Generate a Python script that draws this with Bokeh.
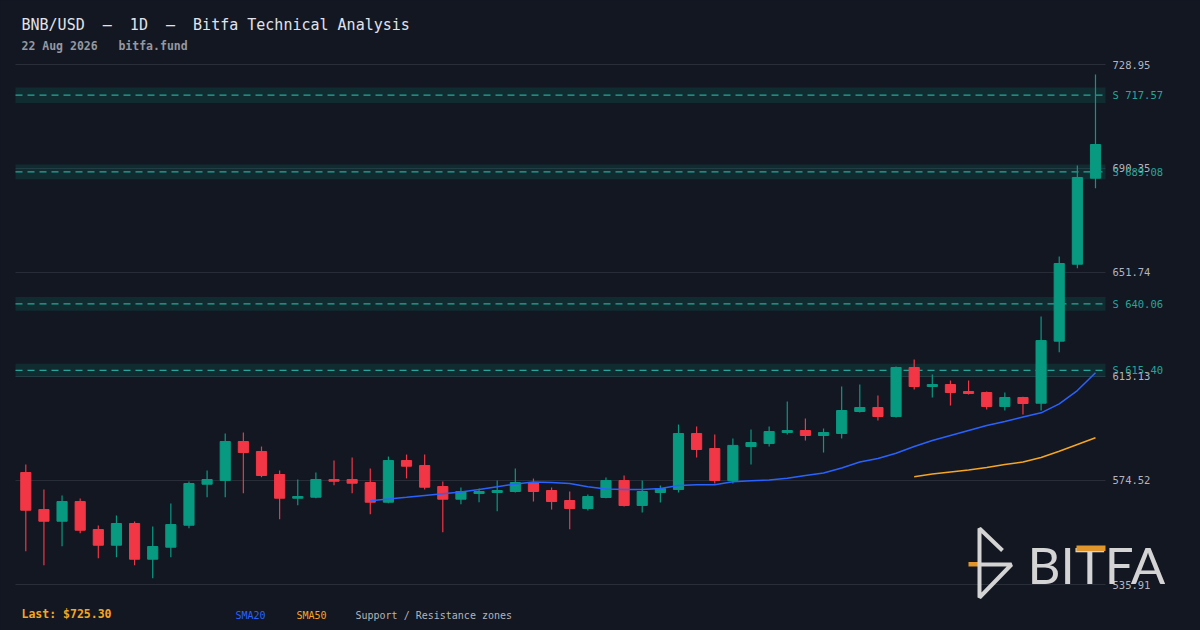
from bokeh.plotting import figure
from bokeh.models import (ColumnDataSource, Range1d, Label, BoxAnnotation, PolyAnnotation)
from bokeh.embed import file_html
from bokeh.resources import INLINE

# ---------------- data ----------------
opens = [577.48, 563.74, 559.40, 566.71, 556.32, 550.49, 558.55, 545.29, 549.75, 557.91,
         573.14, 574.51, 588.99, 585.28, 576.74, 567.94, 568.31, 574.88, 574.88, 573.77,
         566.45, 581.93, 580.08, 572.28, 567.57, 569.68, 570.06, 570.43, 573.77, 570.80,
         567.09, 564.11, 568.20, 574.51, 565.23, 570.06, 571.17, 591.96, 586.39, 574.51,
         587.13, 588.24, 592.33, 593.07, 591.22, 591.96, 600.13, 601.61, 598.27, 616.46,
         609.41, 610.15, 607.55, 607.18, 602.00, 605.33, 603.20, 626.23, 654.81, 686.74]
highs = [580.45, 571.17, 568.94, 567.83, 557.80, 561.52, 559.29, 557.43, 565.97, 574.14,
         578.22, 591.96, 592.33, 587.13, 578.22, 574.88, 577.48, 581.93, 583.04, 578.96,
         583.42, 584.16, 584.16, 574.14, 571.91, 571.54, 574.51, 578.96, 575.25, 571.91,
         570.43, 569.31, 575.62, 576.37, 574.51, 572.65, 595.30, 594.56, 591.59, 590.10,
         593.44, 594.56, 603.84, 597.53, 593.82, 609.41, 610.15, 606.07, 616.83, 619.43,
         613.86, 611.63, 611.63, 607.55, 607.18, 605.60, 635.39, 657.67, 691.45, 725.24]
lows = [548.27, 543.07, 550.12, 554.95, 545.66, 546.03, 543.07, 538.24, 546.03, 556.80,
        568.31, 568.31, 569.80, 575.74, 560.14, 565.34, 567.94, 572.76, 569.80, 562.00,
        566.08, 575.30, 571.17, 555.32, 565.71, 566.45, 563.11, 570.06, 566.71, 563.74,
        556.43, 563.37, 567.90, 564.86, 562.63, 566.34, 570.06, 583.04, 573.40, 573.40,
        580.45, 587.13, 591.59, 589.36, 584.90, 590.10, 599.76, 596.79, 597.90, 608.30,
        605.33, 602.35, 606.44, 600.87, 600.50, 598.99, 600.50, 622.14, 653.33, 683.03]
closes = [563.48, 559.40, 566.71, 556.06, 550.49, 558.55, 545.29, 550.01, 558.17, 573.40,
          574.88, 588.99, 584.90, 576.37, 567.94, 568.57, 574.88, 574.25, 573.51, 566.45,
          581.93, 579.82, 572.02, 567.57, 570.43, 570.43, 570.80, 573.77, 570.43, 566.71,
          564.11, 568.57, 574.51, 565.23, 570.43, 571.54, 591.96, 586.02, 574.51, 587.55,
          588.62, 592.70, 593.07, 591.22, 592.33, 600.50, 601.61, 598.27, 616.46, 609.41,
          610.15, 607.18, 606.81, 602.00, 605.33, 603.10, 626.48, 655.07, 687.00, 699.25]

sma20_start = 19
sma20 = [566.97, 567.64, 568.27, 568.94, 569.57, 570.24, 571.17, 572.17, 573.21, 573.95,
         573.77, 573.40, 572.17, 571.36, 571.17, 571.17, 571.54, 572.65, 572.91, 572.91,
         574.03, 574.40, 574.70, 575.36, 576.37, 577.29, 579.15, 581.38, 582.68, 584.65,
         587.13, 589.36, 591.22, 593.07, 594.93, 596.41, 598.08, 599.64, 602.98, 607.92,
         614.50]
sma50_start = 49
sma50 = [575.88, 576.92, 577.66, 578.41, 579.34, 580.45, 581.38, 583.05, 585.39, 587.88,
         590.36]

zone_levels = [717.57, 689.08, 640.06, 615.40]
zone_labels = ["S 717.57", "S 689.08", "S 640.06", "S 615.40"]
y_ticks = [535.91, 574.52, 613.13, 651.74, 690.35, 728.95]
y_tick_labels = ["535.91", "574.52", "613.13", "651.74", "690.35", "728.95"]

NB = "\u00a0"
title_text = f"BNB/USD{NB*2}\u2014{NB*2}1D{NB*2}\u2014{NB*2}Bitfa Technical Analysis"
subtitle_text = f"22 Aug 2026{NB*3}bitfa.fund"
last_text = "Last: $725.30"

# ---------------- styling ----------------
BG = "#131722"
UP = "#089981"
DOWN = "#f23645"
GRID = "#2a2e39"
MONO = "DejaVu Sans Mono"
W, H = 1200, 630

n = len(closes)
# price-area limits (data) and where they sit on the page (pixels)
X0, X1 = -0.568, n - 0.448
Y0, Y1 = y_ticks[0], y_ticks[-1]
FL, FR, FT, FB = 15, 1105, 64, 584
ux = (X1 - X0) / (FR - FL)
uy = (Y1 - Y0) / (FB - FT)
XS, XE = X0 - FL * ux, X1 + (W - FR) * ux
YS, YE = Y0 - (H - FB) * uy, Y1 + FT * uy


def dx(px):
    return XS + px * ux


def dy(py):
    return YE - py * uy


p = figure(width=W, height=H, output_backend="svg", toolbar_location=None, title=None,
           x_range=Range1d(XS, XE), y_range=Range1d(YS, YE),
           x_axis_location=None, y_axis_location=None,
           min_border=0, min_border_left=0, min_border_right=0,
           min_border_top=0, min_border_bottom=0)
p.background_fill_color = BG
p.border_fill_color = BG
p.outline_line_color = None
for g in p.grid:
    g.visible = False

# horizontal grid
p.segment(x0=X0, x1=X1, y0=y_ticks, y1=y_ticks, line_color=GRID, line_width=1)

# support / resistance zones
zsrc = ColumnDataSource(dict(
    lvl=zone_levels,
    lab=zone_labels,
    top=[v * 1.004 for v in zone_levels],
    bot=[v * 0.996 for v in zone_levels],
))
p.quad(left=X0, right=X1, top="top", bottom="bot", source=zsrc,
       fill_color=UP, fill_alpha=0.16, line_color=None)
p.segment(x0=X0, x1=X1, y0="lvl", y1="lvl", source=zsrc,
          line_color="#26a69a", line_width=1.2, line_dash="7 5")

# candles
idx = list(range(n))
colors = [UP if c >= o else DOWN for o, c in zip(opens, closes)]
src = ColumnDataSource(dict(
    x=idx, o=opens, h=highs, l=lows, c=closes,
    top=[max(o, c) for o, c in zip(opens, closes)],
    bot=[min(o, c) for o, c in zip(opens, closes)],
    col=colors,
))
p.segment(x0="x", y0="l", x1="x", y1="h", source=src, line_color="col", line_width=1.2)
p.vbar(x="x", width=0.56, top="top", bottom="bot", source=src,
       fill_color="col", line_color="col", line_width=1)

# moving averages
p.line(list(range(sma20_start, sma20_start + len(sma20))), sma20,
       line_color="#2962ff", line_width=1.5)
p.line(list(range(sma50_start, sma50_start + len(sma50))), sma50,
       line_color="#f5a623", line_width=1.5)

# price scale labels
tsrc = ColumnDataSource(dict(y=y_ticks, t=y_tick_labels))
p.text(x=X1, y="y", text="t", source=tsrc, x_offset=7, text_color="#b2b5be",
       text_font={"value": MONO}, text_font_size="10.5px", text_baseline="middle")
# zone labels
p.text(x=X1, y="lvl", text="lab", source=zsrc, x_offset=7,
       text_color="#26a69a", text_font={"value": MONO}, text_font_size="10.5px",
       text_baseline="middle")

# header
p.add_layout(Label(x=dx(21), y=dy(24.5), text=title_text, text_color="#e0e3eb",
                   text_font=MONO, text_font_size="15px", text_baseline="middle"))
p.add_layout(Label(x=dx(21), y=dy(45), text=subtitle_text, text_color="#9598a1",
                   text_font=MONO, text_font_size="11.5px", text_font_style="bold",
                   text_baseline="middle"))

# footer
p.add_layout(Label(x=dx(21), y=dy(613), text=last_text, text_color="#f5a623",
                   text_font=MONO, text_font_size="11.5px", text_font_style="bold",
                   text_baseline="middle"))
p.add_layout(Label(x=dx(235), y=dy(615), text="SMA20", text_color="#2962ff",
                   text_font=MONO, text_font_size="10px", text_baseline="middle"))
p.add_layout(Label(x=dx(296), y=dy(615), text="SMA50", text_color="#f5a623",
                   text_font=MONO, text_font_size="10px", text_baseline="middle"))
p.add_layout(Label(x=dx(355), y=dy(615), text="Support / Resistance zones",
                   text_color="#b2b5be", text_font=MONO, text_font_size="10px",
                   text_baseline="middle"))

# watermark logo
LOGO = "#d4d4d4"
ORANGE = "#e0962a"
p.add_layout(Label(x=dx(1027), y=dy(563.5), text="BITFA", text_color=LOGO,
                   text_font="Lato", text_font_size="51px", text_baseline="middle"))
p.add_layout(BoxAnnotation(left=dx(1076), right=dx(1105), top=dy(545), bottom=dy(550.5),
                           fill_color=ORANGE, fill_alpha=1, line_color=None))
p.add_layout(BoxAnnotation(left=dx(968), right=dx(979), top=dy(561.5), bottom=dy(566),
                           fill_color=ORANGE, fill_alpha=1, line_color=None))
pts = [(1002, 550), (979, 528), (979, 597), (1011, 564), (979, 564),
       (1011, 564), (979, 597), (979, 528)]
p.add_layout(PolyAnnotation(xs=[dx(a) for a, b in pts], ys=[dy(b) for a, b in pts],
                            fill_alpha=0, line_color=LOGO, line_width=4, line_alpha=1))

html = file_html(p, INLINE, title="BNB/USD")
html = html.replace("<head>", "<head><style>html,body{background:#131722;}</style>", 1)
open("out.html", "w").write(html)
